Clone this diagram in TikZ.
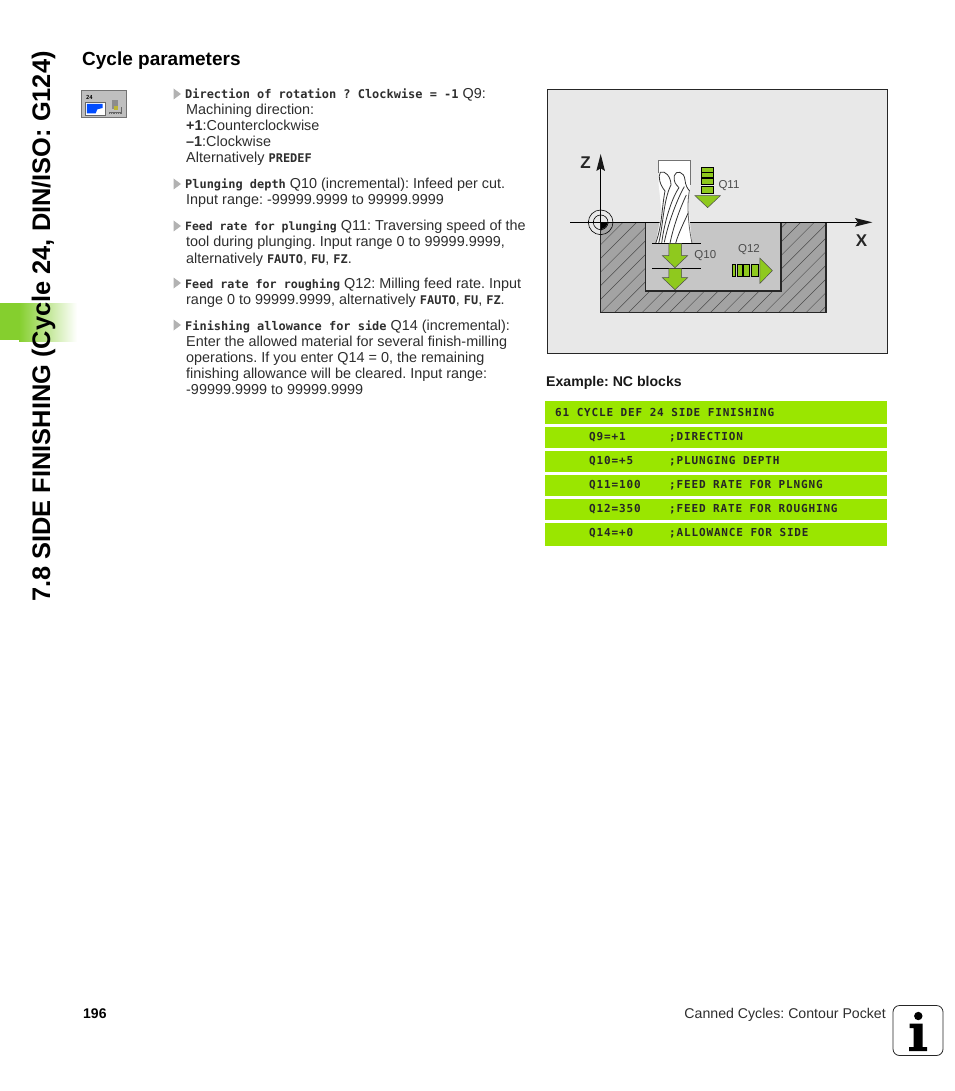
\documentclass[tikz,border=0pt]{standalone}
\usepackage{fontspec}
\setmainfont{Liberation Sans}
\frenchspacing
\newfontfamily\monob{DejaVu Sans Mono}[BoldFont={DejaVu Sans Mono Bold}]
\newfontfamily\ncf{DejaVu Sans Mono Bold}[LetterSpace=7.7]
\usetikzlibrary{arrows.meta,shadings}
\definecolor{txt}{HTML}{2E2E2E}
\definecolor{ncgreen}{HTML}{9AE600}
\definecolor{tabgreen}{HTML}{85CF2E}
\definecolor{arrgreen}{HTML}{8FC91E}
\definecolor{pocket}{HTML}{C6C6C6}
\definecolor{solidg}{HTML}{A3A3A3}
\definecolor{panel}{HTML}{E8E8E8}
\newcommand{\kw}[2][11.95]{{\monob\bfseries\fontsize{#1}{14}\selectfont #2}}
\newcommand{\nc}{\ncf\fontsize{11}{12}\selectfont}
\tikzset{
  body/.style={anchor=base west,inner sep=0pt,text=txt,font=\fontsize{14.4}{16}\selectfont},
  nctxt/.style={anchor=base west,inner sep=0pt,text=black!85,font=\nc},
  ncrow/.style={fill=ncgreen,draw=none},
  bull/.style={fill=black!30,draw=none},
  glabel/.style={inner sep=0pt,text=black!70,font=\fontsize{11.5}{13}\selectfont},
  axlabel/.style={inner sep=0pt,text=black!85,font=\bfseries\fontsize{17}{18}\selectfont},
  greenp/.style={fill=arrgreen,draw=black!70,line width=.5pt},
  barp/.style={fill=arrgreen,draw=black,line width=.7pt},
  thickedge/.style={draw=black!85,line width=1.4pt},
  flute/.style={draw=black!80,line width=.8pt}
}
\begin{document}
\begin{tikzpicture}[x=1pt,y=-1pt]
\useasboundingbox[fill=white] (0,0) rectangle (954,1091);
% side tab
\fill[tabgreen] (0,303) rectangle (19.5,340);
\shade[left color=tabgreen,right color=white] (19,303) rectangle (77,341.5);
\node[rotate=90,anchor=base west,inner sep=0pt,text=black,font=\bfseries\fontsize{25.4}{27}\selectfont] (sidetitle) at (50,602) {7.8 SIDE FINISHING (Cycle 24, DIN/ISO: G124)};
% heading
\node[anchor=base west,inner sep=0pt,text=black,font=\bfseries\fontsize{19}{20}\selectfont] (heading) at (82,66) {Cycle parameters};
% icon
\begin{scope}[shift={(0,30)},x=.3333pt,y=-.3333pt]
\fill[black!25,draw=black!55,line width=.6pt] (244,181) rectangle (380,263);
\node[inner sep=0pt,text=black,font=\monob\bfseries\fontsize{5.5}{6}\selectfont] (icon24) at (268,201) {24};
\fill[white,draw=black!60,line width=.5pt] (256,216) rectangle (315,255);
\fill[blue!70!cyan] (261,222) -- (308,222) -- (308,234) -- (292,238) -- (287,250) -- (261,250) -- cycle;
\fill[black!45] (335,211) rectangle (355,238);
\fill[yellow!70!black] (342,227) rectangle (355,240);
\draw[black!60,line width=.5pt] (328,248) -- (365,248) -- (365,230);
\draw[black!60,line width=.7pt,densely dotted] (328,251) -- (365,251);
\end{scope}
% bullets
\foreach \by in {94,184,226,283,325}{
  \fill[bull] (173.5,\by-5.5) -- (181,\by) -- (173.5,\by+5.5) -- cycle;
}
% body text
\node[body] (t1) at (185,99) {\kw{Direction of rotation ? Clockwise = -1} Q9:};
\node[body] (t2) at (186,115) {Machining direction:};
\node[body] (t3) at (186,131) {\textbf{+1}:Counterclockwise};
\node[body] (t4) at (186,147) {\textbf{–1}:Clockwise};
\node[body] (t5) at (186,163) {Alternatively \kw{PREDEF}};
\node[body] (t6) at (185,189) {\kw{Plunging depth} Q10 (incremental): Infeed per cut.};
\node[body] (t7) at (186,205) {Input range: -99999.9999 to 99999.9999};
\node[body] (t8) at (185,231) {\kw[11.45]{Feed rate for plunging} Q11: Traversing speed of the};
\node[body] (t9) at (186,247) {tool during plunging. Input range 0 to 99999.9999,};
\node[body] (t10) at (186,263) {alternatively \kw{FAUTO}, \kw{FU}, \kw{FZ}.};
\node[body] (t11) at (185,288) {\kw[11.7]{Feed rate for roughing} Q12: Milling feed rate. Input};
\node[body] (t12) at (186,304) {range 0 to 99999.9999, alternatively \kw{FAUTO}, \kw{FU}, \kw{FZ}.};
\node[body] (t13) at (185,330) {\kw{Finishing allowance for side} Q14 (incremental):};
\node[body] (t14) at (186,346) {Enter the allowed material for several finish-milling};
\node[body] (t15) at (186,362) {operations. If you enter Q14 = 0, the remaining};
\node[body] (t16) at (186,378) {finishing allowance will be cleared. Input range:};
\node[body] (t17) at (186,394) {-99999.9999 to 99999.9999};
% figure, coordinates from a 3x crop
\begin{scope}[shift={(545,85)},x=.3333pt,y=-.3333pt]
\fill[panel,draw=black!85,line width=.8pt] (8,14) rectangle (1027,805);
\fill[solidg] (167,412) rectangle (843,683);
\begin{scope}
\clip (167,412) rectangle (843,683);
\foreach \k in {-300,-259,...,1200}{
  \draw[black!70,line width=.45pt] (\k,700) -- (\k+320,380);
}
\end{scope}
\fill[pocket] (302,412) rectangle (708,618);
\draw[thickedge] (302,412) -- (302,618) -- (708,618) -- (708,412);
\draw[thickedge] (843,412) -- (843,683) -- (167,683) -- (167,412);
% axes
\draw[black,line width=.7pt] (75,412) -- (935,412);
\fill[black!90] (930,399) -- (982,412) -- (930,425) -- (938,412) -- cycle;
\draw[black,line width=.7pt] (167,412) -- (167,250);
\fill[black!90] (154,258) -- (167,207) -- (180,258) -- (167,250) -- cycle;
\begin{scope}
\clip (167,412) rectangle (200,445);
\fill[black] (167,412) circle[radius=20];
\end{scope}
\draw[black,line width=.6pt] (167,412) circle[radius=37];
\draw[black,line width=.6pt] (167,412) circle[radius=22];
\node[axlabel] (zlabel) at (122,234) {Z};
\node[axlabel] (xlabel) at (950,466) {X};
% tool
\fill[white] (341,225) -- (436,225) -- (436,300) -- (428,340) -- (441,475) -- (332,475) -- (350,380) -- (341,300) -- cycle;
\draw[black!55,line width=.9pt] (341,265) -- (341,225) -- (436,225) -- (436,300);
\draw[flute] (360,318) .. controls (345,300) and (338,275) .. (346,262) .. controls (360,255) and (378,275) .. (378,300);
\draw[flute] (388,272) .. controls (392,255) and (418,258) .. (420,285) .. controls (421,300) and (428,312) .. (434,318);
\draw[flute] (388,272) .. controls (385,290) and (392,298) .. (402,308);
\draw[black!60,line width=.8pt] (433,318) .. controls (425,360) and (430,420) .. (441,475);
\draw[flute] (360,318) .. controls (350,370) and (352,420) .. (332,475);
\draw[flute] (378,300) .. controls (355,345) and (355,420) .. (341,475);
\draw[flute] (402,308) .. controls (380,340) and (358,410) .. (350,475);
\draw[flute] (418,305) .. controls (395,345) and (368,420) .. (358,472);
\draw[flute] (424,330) .. controls (405,370) and (385,425) .. (375,475);
\draw[flute] (429,385) .. controls (418,410) and (400,445) .. (392,475);
% Q11
\draw[barp] (470,248) rectangle (505,261);
\draw[barp] (470,262) rectangle (505,276);
\draw[barp] (470,281) rectangle (505,298);
\draw[barp] (470,305) rectangle (505,326);
\fill[greenp] (450,332) -- (526,332) -- (488,368) -- cycle;
% Q10
\draw[black,line width=.7pt] (322,475) -- (468,475);
\fill[greenp] (372,476) -- (410,476) -- (410,512) -- (428,512) -- (390,548) -- (352,512) -- (372,512) -- cycle;
\draw[black,line width=.7pt] (322,550) -- (468,550);
\fill[greenp] (372,551) -- (410,551) -- (410,578) -- (428,578) -- (390,614) -- (352,578) -- (372,578) -- cycle;
% Q12
\draw[barp] (562,539) rectangle (572,574);
\draw[barp] (577,539) rectangle (592,574);
\draw[barp] (595,539) rectangle (612,574);
\draw[barp] (619,539) rectangle (640,574);
\fill[greenp] (645,520) -- (682,557) -- (645,595) -- cycle;
\node[glabel] (q11) at (552,303) {Q11};
\node[glabel] (q10) at (481,512) {Q10};
\node[glabel] (q12) at (612,494) {Q12};
\end{scope}
% NC blocks
\node[anchor=base west,inner sep=0pt,text=black!90,font=\bfseries\fontsize{14.1}{15}\selectfont] (example) at (546,386) {Example: NC blocks};
\fill[ncrow] (545,401) rectangle (887,424);
\fill[ncrow] (545,427) rectangle (887,448);
\fill[ncrow] (545,451) rectangle (887,472);
\fill[ncrow] (545,475) rectangle (887,496);
\fill[ncrow] (545,499) rectangle (887,520);
\fill[ncrow] (545,523) rectangle (887,546);
\node[nctxt] (n0) at (555,416.5) {61 CYCLE DEF 24 SIDE FINISHING};
\node[nctxt] (a1) at (589,440.5) {Q9=+1};      \node[nctxt] (b1) at (669,440.5) {;DIRECTION};
\node[nctxt] (a2) at (589,464.5) {Q10=+5};     \node[nctxt] (b2) at (669,464.5) {;PLUNGING DEPTH};
\node[nctxt] (a3) at (589,488.5) {Q11=100};    \node[nctxt] (b3) at (669,488.5) {;FEED RATE FOR PLNGNG};
\node[nctxt] (a4) at (589,512.5) {Q12=350};    \node[nctxt] (b4) at (669,512.5) {;FEED RATE FOR ROUGHING};
\node[nctxt] (a5) at (589,536.5) {Q14=+0};     \node[nctxt] (b5) at (669,536.5) {;ALLOWANCE FOR SIDE};
% footer
\node[anchor=base west,inner sep=0pt,text=black,font=\bfseries\fontsize{14}{16}\selectfont] (page) at (83,1018) {196};
\node[anchor=base east,inner sep=0pt,text=txt,font=\fontsize{14.15}{16}\selectfont] (foot) at (886,1018) {Canned Cycles: Contour Pocket};
% info icon
\draw[black!85,line width=.8pt,rounded corners=6.5pt] (893,1005.5) rectangle (943,1055.5);
\fill[black] (918.3,1016) circle[radius=4.2];
\fill[black] (909.5,1023.5) -- (922.5,1023.5) -- (922.5,1047) -- (927,1047) -- (927,1051) -- (909,1051) -- (909,1047) -- (913.5,1047) -- (913.5,1028) -- (909.5,1028) -- cycle;
\end{tikzpicture}
\end{document}
